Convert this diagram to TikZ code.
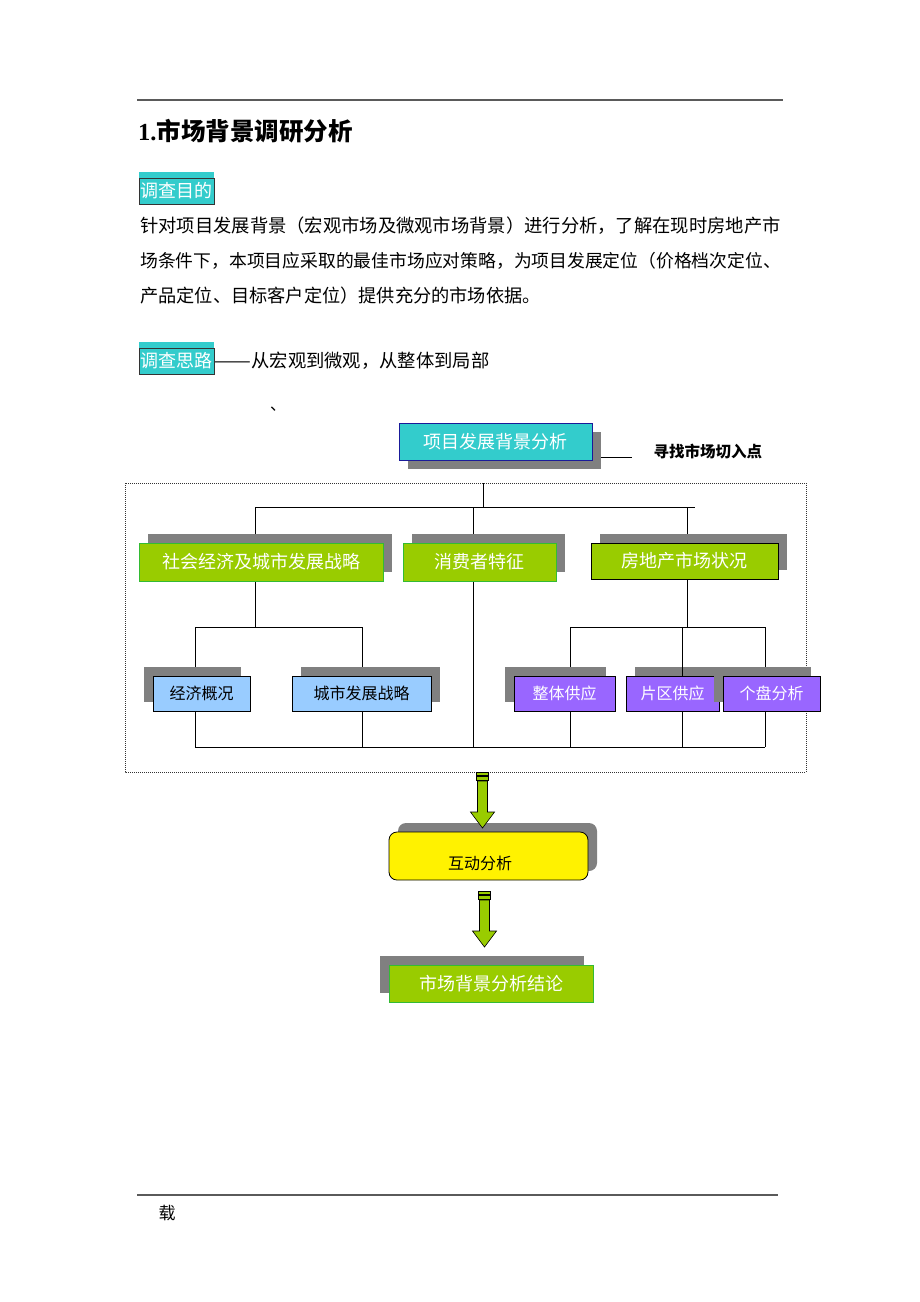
\documentclass[tikz,border=0pt]{standalone}
\usepackage{fontspec}
\setmainfont{Liberation Serif}
\newfontfamily\cjk{Noto Sans CJK SC}
\usetikzlibrary{shadows,backgrounds}

\definecolor{boxcyan}{HTML}{33CCCC}
\definecolor{topblue}{HTML}{1A1A99}
\definecolor{boxgreen}{HTML}{99CC00}
\definecolor{greenline}{HTML}{33BB33}
\definecolor{boxblue}{HTML}{99CCFF}
\definecolor{boxpurple}{HTML}{9966FF}
\definecolor{shadowgray}{HTML}{808080}
\definecolor{rulegray}{HTML}{5A5A5A}

\newcommand{\cjksize}[1]{\cjk\fontsize{#1}{#1}\selectfont}

% block arrow pointing down, top at (#1,#2)
\newcommand{\greenarrow}[2]{%
  \begin{scope}[shift={(#1,#2)}]
    \draw[fill=boxgreen, line width=0.6pt] (-6,0) rectangle (6,3.5);
    \draw[fill=boxgreen, line width=0.6pt] (-6,4.5) rectangle (6,8);
    \draw[fill=boxgreen, line width=0.6pt, line join=miter]
      (-5,9) -- (5,9) -- (5,40) -- (12,40) -- (0,56) -- (-12,40) -- (-5,40) -- cycle;
  \end{scope}}

\tikzset{
  shadowur/.style={drop shadow={shadow xshift=9pt, shadow yshift=9pt, fill=shadowgray, opacity=1}},
  shadowul/.style={drop shadow={shadow xshift=-9pt, shadow yshift=9pt, fill=shadowgray, opacity=1}},
  shadowdr/.style={drop shadow={shadow xshift=9pt, shadow yshift=-9pt, fill=shadowgray, opacity=1}},
  tagbox/.style={draw=black!80, line width=0.8pt, fill=boxcyan, text=white, font=\cjksize{18},
    inner sep=0pt, minimum width=75pt, minimum height=26pt},
  topbox/.style={draw=topblue, line width=1pt, fill=boxcyan, text=white, font=\cjksize{18},
    inner sep=0pt, minimum width=193pt, minimum height=37pt, shadowdr},
  greenbox/.style={draw=greenline, line width=1pt, fill=boxgreen, text=white, font=\cjksize{18},
    inner sep=0pt, minimum height=38pt},
  bluebox/.style={draw=black, line width=0.8pt, fill=boxblue, text=black, font=\cjksize{16},
    inner sep=0pt, minimum height=35pt},
  purplebox/.style={bluebox, fill=boxpurple, text=white},
  interbox/.style={draw=black, line width=0.8pt, fill=yellow, rounded corners=8pt,
    minimum width=199pt, minimum height=48pt, shadowur},
  endbox/.style={draw=greenline, line width=1pt, fill=boxgreen, text=white, font=\cjksize{18},
    inner sep=0pt, minimum width=204pt, minimum height=37pt, shadowul},
  frame/.style={draw=black!80, line width=0.7pt, dash pattern=on 1pt off 1pt},
  tree/.style={draw=black, line width=0.9pt}
}

\begin{document}
\begin{tikzpicture}[x=1pt,y=-1pt]
  \useasboundingbox (0,0) rectangle (920,1302);

  % Rules at top and bottom
  \draw[rulegray, line width=1.5pt] (137,100) -- (783,100);
  \draw[rulegray, line width=1.5pt] (137,1195) -- (778,1195);
  \node[font=\cjksize{17}] (foot) at (167,1213) {载};

  % Heading and text
  \node[anchor=west, inner sep=0pt, font=\bfseries\fontsize{24.5}{24.5}\selectfont] (title)
    at (138,131) {1.{\cjk 市场背景调研分析}};

  \node[tagbox] (aim) at (176.5,191) {调查目的};
  \fill[boxcyan] (aim.north west) rectangle ++(75,-6);
  \node[anchor=west, inner sep=0pt, font=\cjksize{18.3}] (p1) at (140,226)
    {针对项目发展背景（宏观市场及微观市场背景）进行分析，了解在现时房地产市};
  \node[anchor=west, inner sep=0pt, font=\cjksize{17.8}] (p2) at (140,261)
    {场条件下，本项目应采取的最佳市场应对策略，为项目发展定位（价格档次定位、};
  \node[anchor=west, inner sep=0pt, font=\cjksize{18.2}] (p3) at (140,296)
    {产品定位、目标客户定位）提供充分的市场依据。};

  \node[tagbox] (way) at (176.5,361) {调查思路};
  \fill[boxcyan] (way.north west) rectangle ++(75,-6);
  \node[anchor=west, inner sep=0pt, font=\cjksize{18.3}] (waytxt) at (way.east)
    {\scalebox{1.2}[1]{——}从宏观到微观，从整体到局部};
  \node[font=\cjksize{16}] (dot) at (278,409) {、};

  % Boxes
  \node[topbox] (top) at (495.5,441.5) {项目发展背景分析};
  \node[anchor=west, font=\cjksize{15.5}\bfseries] (cut) at (650,452) {寻找市场切入点};

  \node[greenbox, minimum width=244pt, shadowur] (soc) at (261,562) {社会经济及城市发展战略};
  \node[greenbox, minimum width=153pt, shadowur] (con) at (479.5,562) {消费者特征};
  \node[greenbox, draw=black, minimum width=187pt, minimum height=36pt, shadowur] (re)
    at (684.5,561) {房地产市场状况};

  \node[bluebox, minimum width=97pt, shadowul] (eco) at (201.5,693.5) {经济概况};
  \node[bluebox, minimum width=139pt, shadowur] (city) at (361.5,693.5) {城市发展战略};
  \node[purplebox, minimum width=101pt, shadowul] (whole) at (564.5,693.5) {整体供应};
  \node[purplebox, minimum width=93pt, shadowur] (area) at (672.5,693.5) {片区供应};
  \node[purplebox, minimum width=97pt, shadowul] (single) at (771.5,693.5) {个盘分析};

  \node[interbox] (inter) at (488.5,856) {};
  \node[font=\cjksize{16}] (intertxt) at (480,863) {互动分析};
  \node[endbox] (final) at (491,983.5) {市场背景分析结论};

  % Frame and tree lines
  \begin{scope}[on background layer]
    \coordinate (fnw) at (125,483);
    \coordinate (fse) at (806,772);
    \draw[frame] (fnw) rectangle (fse);
    \coordinate (hook) at (632,457);
    \draw[tree] (top.east |- hook) -- (hook);

    \coordinate (a0) at (483,507);
    \coordinate (a1) at (255,507);
    \coordinate (a2) at (473,507);
    \coordinate (a3) at (687,507);
    \coordinate (a4) at (695,507);
    \draw[tree] (a0 |- fnw) -- (a0);
    \draw[tree] (a1) -- (a4);
    \draw[tree] (a1) -- (a1 |- soc.north);
    \draw[tree] (a2) -- (a2 |- con.north);
    \draw[tree] (a3) -- (a3 |- re.north);

    \coordinate (b0) at (255,627);
    \coordinate (b1) at (195,627);
    \coordinate (b2) at (362,627);
    \draw[tree] (b0 |- soc.south) -- (b0);
    \draw[tree] (b1) -- (b2);
    \draw[tree] (b1) -- (b1 |- eco.north);
    \draw[tree] (b2) -- (b2 |- city.north);

    \coordinate (c0) at (687,627);
    \coordinate (c1) at (570,627);
    \coordinate (c2) at (682,627);
    \coordinate (c3) at (765,627);
    \draw[tree] (c0 |- re.south) -- (c0);
    \draw[tree] (c1) -- (c3);
    \draw[tree] (c1) -- (c1 |- whole.north);
    \draw[tree] (c3) -- (c3 |- single.north);

    \coordinate (d1) at (195,747);
    \coordinate (d2) at (765,747);
    \draw[tree] (d1) -- (d2);
    \draw[tree] (a2 |- con.south) -- (a2 |- d1);
    \draw[tree] (b1 |- eco.south) -- (b1 |- d1);
    \draw[tree] (b2 |- city.south) -- (b2 |- d1);
    \draw[tree] (c1 |- whole.south) -- (c1 |- d1);
    \draw[tree] (c2 |- area.south) -- (c2 |- d1);
    \draw[tree] (c3 |- single.south) -- (c3 |- d1);
  \end{scope}
  \draw[tree] (c2) -- (c2 |- area.north);

  % Arrows between the stages
  \greenarrow{482.5}{772}
  \greenarrow{484.5}{891}
\end{tikzpicture}
\end{document}
